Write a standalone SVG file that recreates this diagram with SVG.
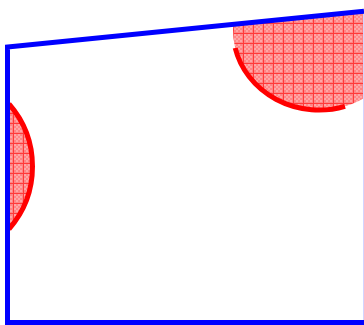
<svg xmlns="http://www.w3.org/2000/svg" width="364" height="325" viewBox="0 0 364 325">
  <defs>
    <pattern id="hatch" width="10" height="10" patternUnits="userSpaceOnUse" x="3" y="3">
      <rect width="10" height="10" fill="#ff8585"/>
      <rect x="1" y="1" width="2" height="2" fill="#ffa6a6"/>
      <rect x="5" y="1" width="2" height="2" fill="#ffa6a6"/>
      <rect x="3" y="3" width="2" height="2" fill="#ffa6a6"/>
      <rect x="7" y="3" width="2" height="2" fill="#ffa6a6"/>
      <rect x="1" y="5" width="2" height="2" fill="#ffa6a6"/>
      <rect x="5" y="5" width="2" height="2" fill="#ffa6a6"/>
      <rect x="3" y="7" width="2" height="2" fill="#ffa6a6"/>
      <rect x="7" y="7" width="2" height="2" fill="#ffa6a6"/>
      <rect x="0" y="0" width="10" height="1" fill="#ff3a3a"/>
      <rect x="0" y="0" width="1" height="10" fill="#ff3a3a"/>
    </pattern>
    <clipPath id="room">
      <polygon points="7,47 364,11 364,322 7,322"/>
    </clipPath>
  </defs>
  <style>
    .zone { fill: url(#hatch); stroke: none; }
    .edge { fill: none; stroke: #ff0000; stroke-width: 5; }
    .wall { fill: none; stroke: #0000ff; stroke-width: 5; }
  </style>
  <g id="zone-top-right">
    <ellipse class="zone" cx="319" cy="30" rx="86" ry="80" clip-path="url(#room)"/>
    <path class="edge" d="M235.2,48 A86,80 0 0,0 345,106.3"/>
  </g>
  <g id="zone-left">
    <circle class="zone" cx="-62.4" cy="166.5" r="94.9" clip-path="url(#room)"/>
    <path class="edge" d="M9,104 A94.9,94.9 0 0,1 9,229"/>
  </g>
  <g id="walls">
    <line x1="363.5" y1="11" x2="363.5" y2="322" stroke="#d4d4ff" stroke-width="1"/>
    <polyline class="wall" points="364,11.3 7.5,47 7.5,322.5 364,322.5"/>
  </g>
</svg>
